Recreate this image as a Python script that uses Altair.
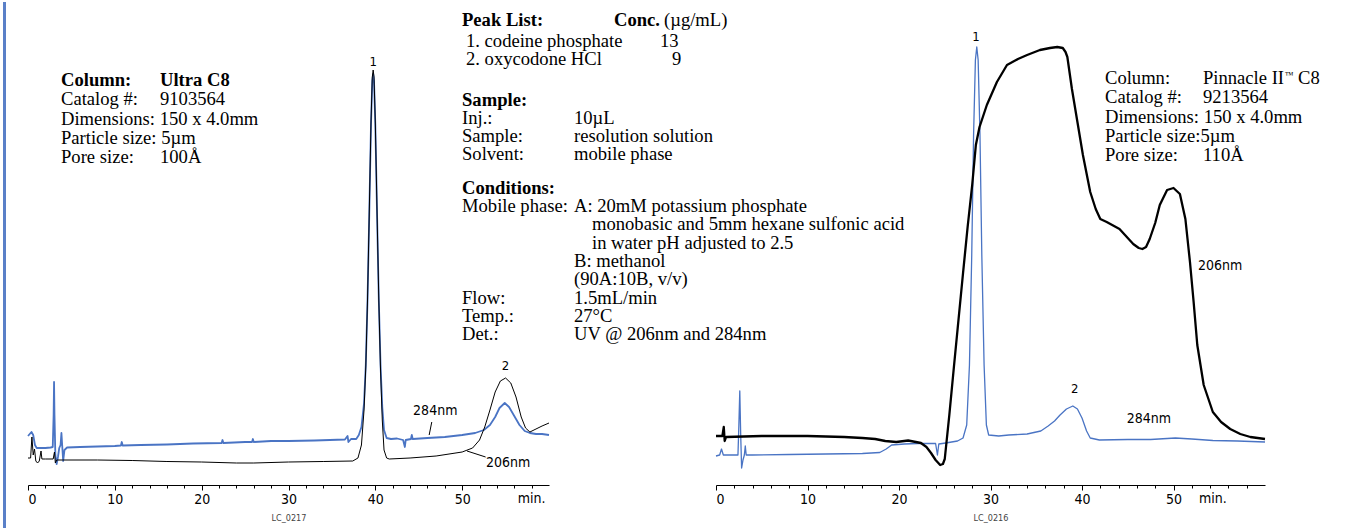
import altair as alt
import pandas as pd

# ---------------- data ----------------
# time in min, response in arbitrary units (height above baseline of axis)
L284_T = [0.0, 0.2, 0.4, 0.6, 0.8, 1.0, 1.5, 2.0, 2.6, 2.85, 2.95, 3.0, 3.05, 3.15, 3.3, 3.45, 3.6, 3.75, 3.85, 3.95,
          4.05, 4.2, 4.5, 6, 8, 10, 10.7, 10.8, 10.9, 13, 16, 19, 22.3, 22.4, 22.5, 25, 25.8, 25.9, 26, 28, 30, 33,
          36.5, 36.8, 36.9, 37.2, 37.8, 38.1, 38.4, 38.7, 38.9, 39.1, 39.3, 39.5, 39.65, 39.75, 39.85, 40.0, 40.2,
          40.4, 40.6, 40.8, 41.0, 41.3, 41.8, 42.5, 43.2, 43.4, 43.5, 44.1, 44.2, 44.3, 46, 48, 50, 51.5, 52.5, 53.2,
          53.8, 54.3, 54.9, 55.4, 56.0, 56.6, 57.2, 57.8, 58.5, 59.2, 60]
L284_V = [49, 51, 53, 50, 40, 37, 37, 37, 37.5, 38, 70, 103, 70, 30, 21, 28, 37, 40, 52, 38,
          24, 35, 37.5, 38, 38.5, 39, 39.5, 43, 39.5, 40, 40.5, 41.5, 42, 45, 42, 43, 43, 46, 43, 44, 44, 44.5,
          45.5, 49, 43, 46, 46, 50, 58, 82, 120, 185, 270, 360, 404, 411, 404, 360, 270,
          185, 120, 78, 55, 47, 46, 46.5, 45, 38, 45, 46, 50, 46, 47, 48, 50, 52, 55, 60,
          68, 77, 82, 78, 69, 60, 54, 52, 51, 51, 50]

L206_T = [0, 0.3, 0.45, 0.6, 0.75, 0.9, 1.1, 1.3, 1.5, 1.6, 2, 2.9, 3.05, 3.15, 3.3, 4, 8, 12, 16, 20, 24, 26, 30,
          34, 37.4, 38.0, 38.4, 38.7, 38.9, 39.1, 39.3, 39.5, 39.65, 39.75, 39.85, 40.0, 40.2, 40.4, 40.6, 40.8,
          41.0, 41.3, 41.6, 44, 47, 50, 51.2, 52.0, 52.6, 53.2, 53.8, 54.4, 55.0, 55.6, 56.2, 56.8, 57.3, 57.8,
          58.5, 59.2, 60]
L206_V = [27, 27, 48, 30, 36, 24, 22, 24, 34, 26, 26, 26, 33, 22, 25, 25, 25, 24.5, 23.5, 23, 22, 22, 23,
          23.5, 24, 27, 40, 75, 118, 185, 272, 362, 408, 415, 408, 362, 272, 185, 115, 65,
          35, 27, 26, 27, 29, 33, 37, 45, 58, 75, 93, 104, 107, 102, 88, 68, 57, 53,
          56, 59, 62]

R284_T = [0, 0.4, 0.6, 0.8, 1.5, 2.4, 2.5, 2.6, 2.7, 2.8, 2.95, 3.1, 3.2, 3.3, 4, 8, 12, 16, 17.9, 18.6, 19.2,
          20.6, 22, 24.0, 24.2, 24.35, 25.1, 26.4, 27.0, 27.4, 27.7, 27.95, 28.15, 28.35, 28.5, 28.65, 28.85,
          29.05, 29.3, 29.55, 29.8, 30.9, 32, 34, 35.5, 36.3, 37.0, 37.6, 38.3, 39.0, 39.5, 40.0, 40.5, 40.9,
          41.9, 45, 47.5, 50.2, 52, 54.3, 57, 60]
R284_V = [29, 30, 36, 30, 30, 30, 60, 94, 50, 17, 25, 30, 39, 30, 30, 30.5, 31, 31.5, 32.5, 36, 40,
          41, 41.5, 41.5, 30, 41, 42, 44, 47, 60, 120, 230, 350, 425, 438, 425, 350,
          230, 120, 60, 50, 49, 50, 51, 54, 59, 64, 70, 76, 79, 76, 67, 54, 47,
          45, 45.5, 45.5, 47, 46, 44.5, 44, 43]

R206_T = [0, 0.7, 0.85, 0.95, 1.1, 5, 10, 14, 16, 17.4, 18.5, 19.7, 21, 22.4, 23.0, 23.5, 24.0, 24.5, 24.8,
          25.0, 25.5, 26.0, 26.5, 27.0, 27.5, 28.0, 28.4, 28.8, 29.6, 30.7, 31.8, 33.0, 34.0, 35.4, 36.5, 37.3,
          37.9, 38.2, 38.4, 38.9, 39.5, 40.1, 40.9, 41.5, 42.0, 42.7, 43.3, 44.1, 45.0, 45.6, 46.2, 46.6, 47.0,
          47.4, 48.0, 48.5, 49.3, 50.0, 50.7, 51.3, 51.8, 52.2, 52.6, 53.3, 54.3, 55.2, 56.2, 57.3, 58.4, 60]
R206_V = [49, 49, 58, 44, 48, 49, 49, 48, 47, 46, 44, 43, 44.5, 42, 38, 32, 25, 20, 21,
          26, 70, 118, 165, 212, 258, 300, 340, 358, 380, 403, 420, 426, 430, 435, 437, 438,
          437, 433, 428, 396, 363, 330, 293, 276, 266, 263, 260, 256, 247, 241, 237, 236, 238,
          246, 262, 280, 295, 297, 291, 266, 223, 183, 140, 100, 73, 63, 56, 51, 48, 46]

# peak / trace labels: text, time, response
L_LABELS = ["1", "2", "284nm", "206nm"]
L_LABEL_T = [39.75, 55.0, 46.9, 55.3]
L_LABEL_V = [423, 119, 74, 22]
R_LABELS = ["1", "2", "284nm", "206nm"]
R_LABEL_T = [28.4, 39.2, 47.3, 55.1]
R_LABEL_V = [448, 96, 66, 219]
# leader lines: t, v, t2, v2
L_LEADER_T = [46.5, 50.56]
L_LEADER_V = [63, 34]
L_LEADER_T2 = [46.2, 52.7]
L_LEADER_V2 = [50, 28]

TICKS = list(range(0, 59, 2))
LEFT_CODE = "LC_0217"
RIGHT_CODE = "LC_0216"

LEFT_COL_HEAD = ["Column:", "Ultra C8"]
LEFT_COL_LABELS = ["Catalog #:", "Dimensions: 150 x 4.0mm", "Particle size: 5µm", "Pore size:"]
LEFT_COL_VALUES = ["9103564", "", "", "100Å"]
RIGHT_COL_LABELS = ["Column:", "Catalog #:", "Dimensions: 150 x 4.0mm", "Particle size:5µm", "Pore size:"]
RIGHT_COL_VALUES = ["Pinnacle II", "9213564", "", "", "110Å"]
RIGHT_TM = "™"
RIGHT_C8 = "C8"

PEAK_HEAD = "Peak List:"
CONC_HEAD = "Conc."
CONC_UNIT = "(µg/mL)"
PEAK_NAMES = ["1. codeine phosphate", "2. oxycodone HCl"]
PEAK_CONC = ["13", "9"]
SAMPLE_HEAD = "Sample:"
SAMPLE_LABELS = ["Inj.:", "Sample:", "Solvent:"]
SAMPLE_VALUES = ["10µL", "resolution solution", "mobile phase"]
COND_HEAD = "Conditions:"
COND_LABELS = ["Mobile phase:", "", "", "", "", "Flow:", "Temp.:", "Det.:"]
COND_VALUES = ["A: 20mM potassium phosphate", "", "", "B: methanol", "(90A:10B, v/v)",
               "1.5mL/min", "27°C", "UV @ 206nm and 284nm"]
COND_CONT = ["", "monobasic and 5mm hexane sulfonic acid", "in water pH adjusted to 2.5"]

# ---------------- styling ----------------
BLUE = "#4a74c4"
SERIF = "Liberation Serif, Times New Roman, serif"
SANS = "Liberation Sans Narrow, DejaVu Sans Condensed, Roboto Condensed, Liberation Sans, sans-serif"
FS = 18.6

Y = alt.Y("v:Q", scale=alt.Scale(domain=[0, 483], nice=False, zero=False), axis=None)


def xdef(rng, code, field="t"):
    return alt.X(
        f"{field}:Q",
        scale=alt.Scale(domain=[0, 60], range=rng, nice=False, zero=False),
        axis=alt.Axis(
            orient="bottom", values=TICKS, grid=False,
            labelExpr="datum.value % 10 === 0 ? datum.label : ''",
            tickSize={"condition": {"test": "datum.value % 10 === 0", "value": 5}, "value": 3},
            tickColor="black", domainColor="black", labelColor="black",
            labelFont=SANS, labelFontSize=14, labelPadding=2,
            title=code, titleFont=SANS, titleFontSize=9, titleFontWeight="normal",
            titleColor="#444", titlePadding=7,
        ),
    )


def trace(t, v, color, width, X):
    return alt.Chart(pd.DataFrame({"t": t, "v": v})).mark_line(
        color=color, strokeWidth=width, strokeJoin="round"
    ).encode(x=X, y=Y)


def labels(texts, t, v, X, size):
    return alt.Chart(pd.DataFrame({"t": t, "v": v, "s": texts})).mark_text(
        font=SANS, fontSize=size, color="black", baseline="middle", align="center"
    ).encode(x=X, y=Y, text="s:N")


def one_line(text, x, y, bold=False, size=FS):
    return alt.Chart(alt.Data(values=[{}])).mark_text(
        text=text, font=SERIF, fontSize=size, fontWeight="bold" if bold else "normal",
        align="left", baseline="alphabetic", color="black"
    ).encode(x=alt.value(x), y=alt.value(y))


def block(lines, x, y, bold=False, lh=18.3, size=FS):
    """one text mark per non-empty row; rows are lh pixels apart"""
    return [one_line(s, x, y + i * lh, bold, size) for i, s in enumerate(lines) if s]


def min_label(t, X):
    return alt.Chart(pd.DataFrame({"t": [t], "v": [-14], "s": ["min."]})).mark_text(
        font=SANS, fontSize=14, color="black", baseline="middle", align="center"
    ).encode(x=X, y=Y, text="s:N")


XL = xdef([28, 549], LEFT_CODE)
XR = xdef([716, 1265], RIGHT_CODE)
XL2 = alt.X2("t2:Q")

leaders = alt.Chart(pd.DataFrame({"t": L_LEADER_T, "v": L_LEADER_V, "t2": L_LEADER_T2, "v2": L_LEADER_V2})
                    ).mark_rule(color="black", strokeWidth=1).encode(x=XL, y=Y, x2=XL2, y2="v2:Q")

border = alt.Chart(alt.Data(values=[{}])).mark_rule(color="#5a80c8", strokeWidth=3).encode(
    x=alt.value(4.5), y=alt.value(0), y2=alt.value(528))

CL = 19.3
left_layers = [
    trace(L284_T, L284_V, BLUE, 1.8, XL),
    trace(L206_T, L206_V, "black", 1.0, XL),
    labels(L_LABELS[:2], L_LABEL_T[:2], L_LABEL_V[:2], XL, 13),
    labels(L_LABELS[2:], L_LABEL_T[2:], L_LABEL_V[2:], XL, 14),
    leaders,
    min_label(58.0, XL),
    border,
    one_line(LEFT_COL_HEAD[0], 61, 84, bold=True),
    one_line(LEFT_COL_HEAD[1], 160, 84, bold=True),
    *block(LEFT_COL_LABELS, 61, 84 + CL, lh=CL),
    *block(LEFT_COL_VALUES, 160, 84 + CL, lh=CL),
    one_line(PEAK_HEAD, 462, 23.5, bold=True),
    one_line(CONC_HEAD, 614, 23.5, bold=True),
    one_line(CONC_UNIT, 664, 23.5),
    *block(PEAK_NAMES, 466, 45, lh=17.5),
    one_line(PEAK_CONC[0], 660, 45),
    one_line(PEAK_CONC[1], 672, 62.5),
    one_line(SAMPLE_HEAD, 462, 103.5, bold=True),
    *block(SAMPLE_LABELS, 462, 121.5, lh=18),
    *block(SAMPLE_VALUES, 574, 121.5, lh=18),
    one_line(COND_HEAD, 462, 191.5, bold=True),
    *block(COND_LABELS, 462, 210, lh=18.3),
    *block(COND_VALUES, 574, 210, lh=18.3),
    *block(COND_CONT, 592, 210, lh=18.3),
]
left_panel = alt.layer(*left_layers)

right_panel = alt.layer(
    trace(R284_T, R284_V, BLUE, 1.3, XR),
    trace(R206_T, R206_V, "black", 2.3, XR),
    labels(R_LABELS[:2], R_LABEL_T[:2], R_LABEL_V[:2], XR, 13),
    labels(R_LABELS[2:], R_LABEL_T[2:], R_LABEL_V[2:], XR, 14),
    min_label(54.3, XR),
    *block(RIGHT_COL_LABELS, 1105, 82, lh=CL),
    *block(RIGHT_COL_VALUES, 1203, 82, lh=CL),
    one_line(RIGHT_TM, 1285, 76, size=9),
    one_line(RIGHT_C8, 1298, 82),
)

chart = alt.layer(left_panel, right_panel).resolve_scale(x="independent").resolve_axis(
    x="independent"
).properties(width=1346, height=483, padding=0, background="white").configure_view(stroke=None)

chart.save("out.html", embed_options={"renderer": "svg", "actions": False})
